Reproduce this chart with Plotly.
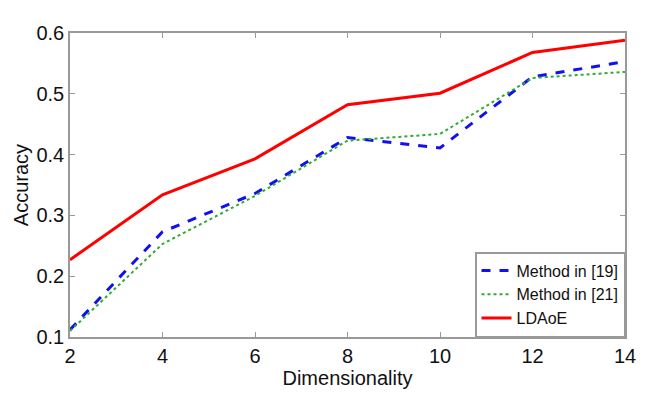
import plotly.graph_objects as go

dims = [2, 4, 6, 8, 10, 12, 14]
method19 = [0.112, 0.273, 0.336, 0.428, 0.411, 0.528, 0.553]
method21 = [0.110, 0.253, 0.332, 0.423, 0.434, 0.526, 0.536]
ldaoe = [0.227, 0.334, 0.393, 0.482, 0.501, 0.568, 0.588]

names = ["Method in [19]", "Method in [21]", "LDAoE"]
colors = ["#1010f0", "#33aa33", "#ff0000"]
dashes = ["dash", "dot", "solid"]
widths = [3, 2, 3]

fig = go.Figure()
for name, ys, c, d, w in zip(names, [method19, method21, ldaoe], colors, dashes, widths):
    fig.add_trace(go.Scatter(x=dims, y=ys, mode="lines", name=name,
                             line=dict(color=c, dash=d, width=w)))

axis_common = dict(showgrid=False, zeroline=False, showline=True, linecolor="#999999",
                   linewidth=1.5, mirror="ticks", ticks="inside", ticklen=5,
                   tickcolor="#999999", tickfont=dict(size=20, color="#111111"))

fig.update_layout(
    width=648, height=393,
    margin=dict(l=70, r=20, t=33, b=48),
    paper_bgcolor="white", plot_bgcolor="white",
    font=dict(family="Liberation Sans, Arial, sans-serif", color="#111111"),
    xaxis=dict(range=[2, 14], tickvals=[2, 4, 6, 8, 10, 12, 14],
               title=dict(text="Dimensionality", font=dict(size=20), standoff=0),
               **axis_common),
    yaxis=dict(range=[0.1, 0.6], tickvals=[0.1, 0.2, 0.3, 0.4, 0.5, 0.6],
               tickformat=".1f",
               title=dict(text="Accuracy", font=dict(size=20), standoff=2),
               **axis_common),
    legend=dict(x=1, y=0, xanchor="right", yanchor="bottom",
                bordercolor="#999999", borderwidth=1.5, bgcolor="white",
                font=dict(size=16), tracegroupgap=0, itemwidth=30),
    showlegend=True,
)

fig.write_html("out.html")
